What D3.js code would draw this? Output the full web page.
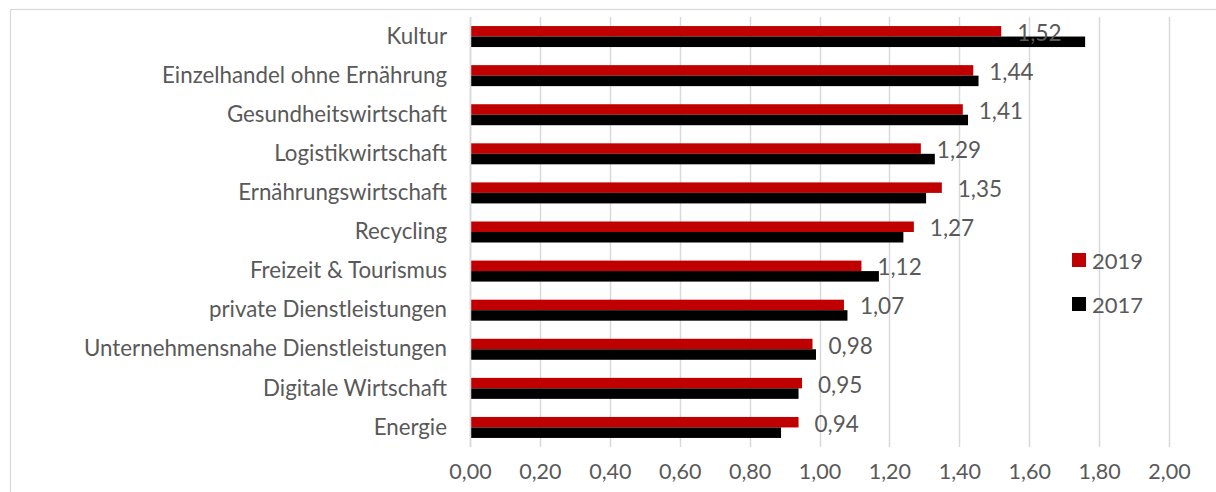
<!DOCTYPE html>
<html>
<head>
<meta charset="utf-8">
<script src="https://cdn.jsdelivr.net/npm/d3@7"></script>
<style>
  html, body { margin: 0; padding: 0; background: #fff; }
  svg { display: block; }
  text { font-family: Lato, "Open Sans", sans-serif; fill: #595959; }
</style>
</head>
<body>
<svg id="chart" width="1216" height="492"></svg>
<script>
const categories = [
  "Kultur",
  "Einzelhandel ohne Ernährung",
  "Gesundheitswirtschaft",
  "Logistikwirtschaft",
  "Ernährungswirtschaft",
  "Recycling",
  "Freizeit & Tourismus",
  "private Dienstleistungen",
  "Unternehmensnahe Dienstleistungen",
  "Digitale Wirtschaft",
  "Energie"
];
const seriesNames = ["2019", "2017"];
const values2019 = [1.52, 1.44, 1.41, 1.29, 1.35, 1.27, 1.12, 1.07, 0.98, 0.95, 0.94];
const values2017 = [1.76, 1.455, 1.425, 1.33, 1.305, 1.24, 1.17, 1.08, 0.99, 0.94, 0.89];
const xTicks = [0, 0.2, 0.4, 0.6, 0.8, 1.0, 1.2, 1.4, 1.6, 1.8, 2.0];
const colors = { "2019": "#C00000", "2017": "#000000" };

const svg = d3.select("#chart");
const fmt = v => d3.format(".2f")(v).replace(".", ",");

// frame
svg.append("rect").attr("x", 10.5).attr("y", 9.5).attr("width", 1230).attr("height", 500)
  .attr("fill", "none").attr("stroke", "#D9D9D9").attr("stroke-width", 1.2);

const plot = { left: 470, right: 1169, top: 17, bottom: 447 };
const x = d3.scaleLinear().domain([0, 2]).range([plot.left, plot.right]);
const y = d3.scaleBand().domain(categories).range([plot.top, plot.bottom])
  .paddingInner(0.463).paddingOuter(0.2315);
const ys = d3.scaleBand().domain(seriesNames).range([0, y.bandwidth()]);

// gridlines
svg.append("g").selectAll("line").data(xTicks).join("line")
  .attr("x1", d => Math.round(x(d)) + 0.5).attr("x2", d => Math.round(x(d)) + 0.5)
  .attr("y1", plot.top).attr("y2", plot.bottom)
  .attr("stroke", "#D9D9D9").attr("stroke-width", 1.5);

// x tick labels via axis
const xAxis = d3.axisBottom(x).tickValues(xTicks).tickFormat(fmt).tickSize(0).tickPadding(0);
const gx = svg.append("g").attr("transform", `translate(0, ${plot.bottom + 17})`).call(xAxis);
gx.select(".domain").remove();
gx.selectAll("text").attr("font-size", 21.5).attr("fill", "#595959")
  .attr("font-family", "Lato, sans-serif");

// category labels via axis
const yAxis = d3.axisLeft(y).tickSize(0).tickPadding(23);
const gy = svg.append("g").attr("transform", `translate(${plot.left}, 0)`).call(yAxis);
gy.select(".domain").remove();
gy.selectAll("text").attr("font-size", 22.3).attr("fill", "#595959")
  .attr("font-family", "Lato, sans-serif");

// bars
const data = categories.map((c, i) => ({ c, "2019": values2019[i], "2017": values2017[i] }));
const groups = svg.append("g").selectAll("g").data(data).join("g")
  .attr("transform", d => `translate(0, ${y(d.c)})`);
groups.selectAll("rect").data(d => seriesNames.map(s => ({ s, v: d[s] }))).join("rect")
  .attr("x", x(0)).attr("y", d => ys(d.s)).attr("height", ys.bandwidth())
  .attr("width", d => x(d.v) - x(0)).attr("fill", d => colors[d.s]);

// axis line
svg.append("line").attr("x1", x(0) + 0.5).attr("x2", x(0) + 0.5)
  .attr("y1", plot.top).attr("y2", plot.bottom).attr("stroke", "#D9D9D9").attr("stroke-width", 1.5);

// data labels for 2019
svg.append("g").selectAll("text").data(data).join("text")
  .attr("x", d => x(d["2019"]) + 16)
  .attr("y", d => y(d.c) + ys("2019") + ys.bandwidth() / 2 + 1)
  .attr("dominant-baseline", "central")
  .attr("font-size", 22.5)
  .text(d => fmt(d["2019"]));

// legend
const legend = svg.append("g");
seriesNames.forEach((s, i) => {
  const ly = 260 + i * 44;
  legend.append("rect").attr("x", 1072).attr("y", ly - 7).attr("width", 14).attr("height", 14)
    .attr("fill", colors[s]);
  legend.append("text").attr("x", 1092).attr("y", ly).attr("dominant-baseline", "central")
    .attr("font-size", 22).text(s);
});
</script>
</body>
</html>
